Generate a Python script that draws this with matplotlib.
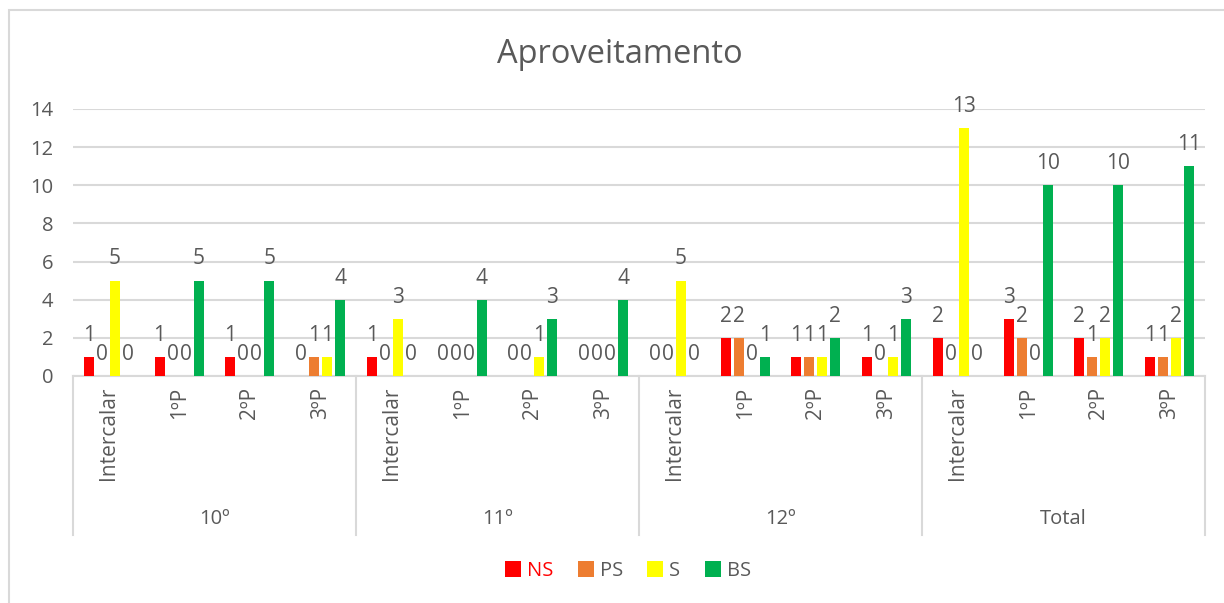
import matplotlib
matplotlib.use("Agg")
import matplotlib.pyplot as plt
import numpy as np
from matplotlib.patches import Rectangle

plt.rcParams['font.family'] = ['Open Sans', 'DejaVu Sans']

# datos
grupos = ['10º', '11º', '12º', 'Total']
periodos = ['Intercalar', '1ºP', '2ºP', '3ºP']
series = ['NS', 'PS', 'S', 'BS']
ns = [1, 1, 1, 0,  1, 0, 0, 0,  0, 2, 1, 1,  2, 3, 2, 1]
ps = [0, 0, 0, 1,  0, 0, 0, 0,  0, 2, 1, 0,  0, 2, 1, 1]
s  = [5, 0, 0, 1,  3, 0, 1, 0,  5, 0, 1, 1, 13, 0, 2, 2]
bs = [0, 5, 5, 4,  0, 4, 3, 4,  0, 1, 2, 3,  0, 10, 10, 11]
valores = [ns, ps, s, bs]
colores = ['#ff0000', '#ed7d31', '#ffff00', '#00b050']

gris = '#595959'
linea = '#d9d9d9'

fig = plt.figure(figsize=(12.24, 6.03), dpi=100)
ax = fig.add_axes([0.0596, 0.3765, 0.9249, 0.4428])

n = len(grupos) * len(periodos)
x = np.arange(n)
paso = 0.184
ancho = 0.141
for i, (nombre, vals) in enumerate(zip(series, valores)):
    barras = ax.bar(x + (i - 1.5) * paso, vals, width=ancho, color=colores[i], label=nombre, zorder=3)
    ax.bar_label(barras, labels=[str(v) for v in vals], padding=8, fontsize=15, color=gris)

ax.set_xlim(-0.5, n - 0.5)
ax.set_ylim(0, 14)
ax.set_yticks(range(0, 15, 2))
ax.yaxis.grid(True, color=linea, linewidth=1.5, zorder=0)
for sp in ['top', 'right', 'left']:
    ax.spines[sp].set_visible(False)
ax.spines['bottom'].set_color(linea)
ax.spines['bottom'].set_linewidth(1.5)
ax.tick_params(axis='y', length=0, labelsize=14.5, labelcolor=gris, pad=14)
ax.set_xticks(x)
ax.set_xticklabels(periodos * len(grupos), rotation=90, fontsize=15, color=gris)
ax.tick_params(axis='x', length=0, pad=8)

# eje de dos niveles
trans = ax.get_xaxis_transform()
for k in range(len(grupos) + 1):
    xx = k * len(periodos) - 0.5
    ax.plot([xx, xx], [0, -0.595], color=linea, linewidth=1.5, transform=trans, clip_on=False)
for k, g in enumerate(grupos):
    xc = k * len(periodos) + (len(periodos) - 1) / 2
    ax.text(xc, -0.536, g, transform=trans, ha='center', va='center', fontsize=14.5, color=gris)

fig.text(0.506, 0.909, 'Aproveitamento', ha='center', va='center', fontsize=23.5, color=gris)

leg = fig.legend(loc='center', bbox_to_anchor=(0.513, 0.053), ncol=4, frameon=False,
                 fontsize=14.5, handlelength=0.8, handleheight=0.8, handletextpad=0.3,
                 columnspacing=1.2)
for t in leg.get_texts():
    t.set_color(gris)
leg.get_texts()[0].set_color('#ff0000')

fig.patches.append(Rectangle((9 / 1224, -0.1), 1.2, 1 - 10 / 603 + 0.1, transform=fig.transFigure,
                             fill=False, edgecolor=linea, linewidth=1.5))

plt.savefig("out.png", dpi=100)
